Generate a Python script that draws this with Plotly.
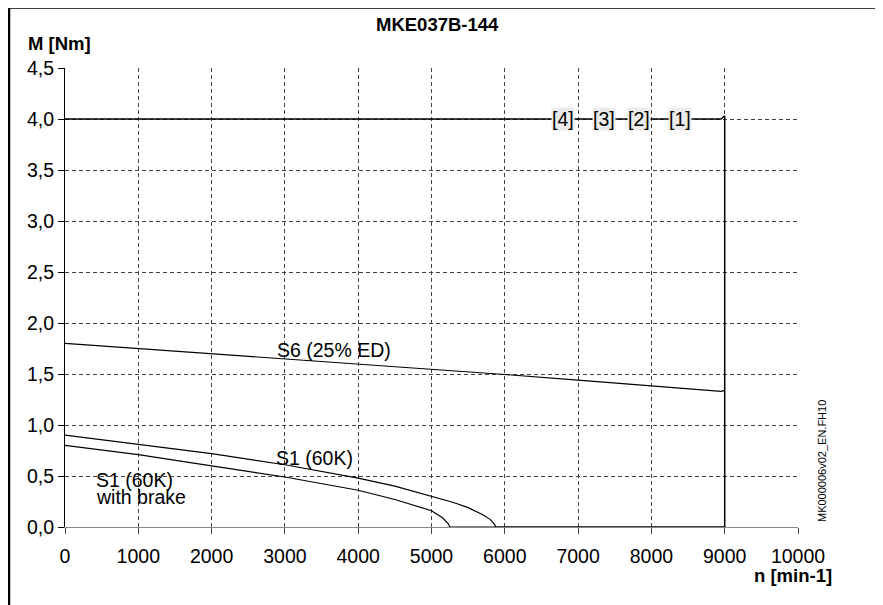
import plotly.graph_objects as go

# ---- data ----
x_ticks = [0, 1000, 2000, 3000, 4000, 5000, 6000, 7000, 8000, 9000, 10000]
x_tick_labels = ["0", "1000", "2000", "3000", "4000", "5000", "6000", "7000", "8000", "9000", "10000"]
y_ticks = [0, 0.5, 1.0, 1.5, 2.0, 2.5, 3.0, 3.5, 4.0, 4.5]
y_tick_labels = ["0,0", "0,5", "1,0", "1,5", "2,0", "2,5", "3,0", "3,5", "4,0", "4,5"]

n_max = [0, 8950, 9000, 9000]
m_max = [4.0, 4.0, 4.03, 0.0]

n_s6 = [0, 1000, 2000, 3000, 4000, 5000, 6000, 7000, 8000, 8950, 9000]
m_s6 = [1.80, 1.75, 1.70, 1.65, 1.60, 1.55, 1.495, 1.44, 1.385, 1.33, 1.34]

n_s1 = [0, 1000, 2000, 3000, 4000, 4500, 5000, 5300, 5500, 5700, 5800, 5850, 5880, 9000]
m_s1 = [0.90, 0.81, 0.72, 0.61, 0.48, 0.40, 0.30, 0.24, 0.19, 0.12, 0.075, 0.035, 0.0, 0.0]

n_s1b = [0, 1000, 2000, 3000, 4000, 4500, 5000, 5150, 5230, 5250, 9000]
m_s1b = [0.80, 0.71, 0.60, 0.49, 0.36, 0.27, 0.16, 0.09, 0.03, 0.0, 0.0]

bracket_labels = ["[4]", "[3]", "[2]", "[1]"]
bracket_n = [6795, 7355, 7830, 8390]
bracket_m = 4.0

FONT = "Liberation Sans, Arial, Helvetica, sans-serif"
FS = 19.5
FSB = 18.5

# page body has an 8px margin; plot area target (absolute px): x 65..798, y 68..527
OFF = 8
PX0, PX1, PY0, PY1 = 65, 798, 68, 527
PW, PH = PX1 - PX0, PY1 - PY0


def px(xa):
    return (xa - PX0) / PW


def py(ya):
    return (PY1 - ya) / PH


fig = go.Figure()
line_style = dict(color="black", width=1.2)
fig.add_trace(go.Scatter(x=n_s6, y=m_s6, mode="lines", line=line_style, showlegend=False))
fig.add_trace(go.Scatter(x=n_s1, y=m_s1, mode="lines", line=line_style, showlegend=False))
fig.add_trace(go.Scatter(x=n_s1b, y=m_s1b, mode="lines", line=line_style, showlegend=False))
fig.add_trace(go.Scatter(x=n_max, y=m_max, mode="lines", line=dict(color="black", width=1.5), showlegend=False))

annotations = []
for lab, nx in zip(bracket_labels, bracket_n):
    annotations.append(dict(x=nx, y=bracket_m, xref="x", yref="y", text=lab, showarrow=False,
                            font=dict(family=FONT, size=FS, color="black"),
                            bgcolor="#ebebeb", borderpad=0))

annotations += [
    dict(x=2865, y=1.735, xref="x", yref="y", text="S6 (25% ED)", showarrow=False,
         xanchor="left", font=dict(family=FONT, size=FS, color="black")),
    dict(x=2850, y=0.68, xref="x", yref="y", text="S1 (60K)", showarrow=False,
         xanchor="left", font=dict(family=FONT, size=FS, color="black")),
    dict(x=390, y=0.465, xref="x", yref="y", text="S1 (60K)", showarrow=False,
         xanchor="left", font=dict(family=FONT, size=FS, color="black")),
    dict(x=395, y=0.29, xref="x", yref="y", text="with brake", showarrow=False,
         xanchor="left", font=dict(family=FONT, size=FS, color="black")),
    # titles
    dict(x=px(437), y=py(25), xref="paper", yref="paper", text="<b>MKE037B-144</b>",
         xanchor="center", yanchor="middle",
         showarrow=False, font=dict(family=FONT, size=FSB, color="black")),
    dict(x=px(59), y=py(43), xref="paper", yref="paper", text="<b>M [Nm]</b>",
         xanchor="center", yanchor="middle",
         showarrow=False, font=dict(family=FONT, size=FSB, color="black")),
    dict(x=px(793), y=py(575), xref="paper", yref="paper", text="<b>n [min-1]</b>",
         xanchor="center", yanchor="middle",
         showarrow=False, font=dict(family=FONT, size=FSB, color="black")),
    dict(x=px(822), y=py(461), xref="paper", yref="paper", text="MK000006v02_EN.FH10",
         xanchor="center", yanchor="middle",
         textangle=-90, showarrow=False, font=dict(family=FONT, size=11, color="black")),
]

frame = dict(color="black", width=2.5)
shapes = [
    dict(type="line", xref="paper", yref="paper", x0=px(9), x1=px(9), y0=py(640), y1=py(6.3), line=frame),
    dict(type="line", xref="paper", yref="paper", x0=px(880), x1=px(880), y0=py(640), y1=py(6.3), line=frame),
    dict(type="line", xref="paper", yref="paper", x0=px(9), x1=px(880), y0=py(7.5), y1=py(7.5), line=frame),
]

fig.update_layout(
    width=883 - OFF, height=605 - OFF,
    margin=dict(l=PX0 - OFF, r=883 - PX1, t=PY0 - OFF, b=605 - PY1),
    paper_bgcolor="white", plot_bgcolor="white",
    font=dict(family=FONT, size=FS, color="black"),
    annotations=annotations,
    shapes=shapes,
)
fig.update_xaxes(range=[0, 10000], tickvals=x_ticks, ticktext=x_tick_labels,
                 showgrid=True, gridcolor="#444", griddash="4px,3px", gridwidth=1,
                 zeroline=False, showline=True, linecolor="#888", linewidth=1,
                 ticks="outside", ticklen=6, tickcolor="#444", ticklabelstandoff=6)
fig.update_yaxes(range=[0, 4.5], tickvals=y_ticks, ticktext=y_tick_labels,
                 showgrid=True, gridcolor="#444", griddash="4px,3px", gridwidth=1,
                 zeroline=False, showline=True, linecolor="black", linewidth=1,
                 ticks="outside", ticklen=6, tickcolor="black")

fig.write_html("out.html")
